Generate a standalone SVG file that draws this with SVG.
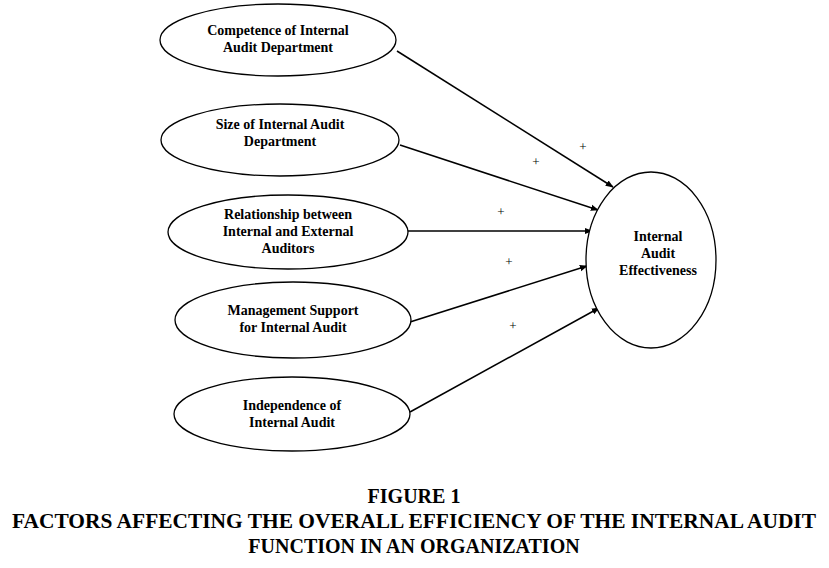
<svg xmlns="http://www.w3.org/2000/svg" width="829" height="568" viewBox="0 0 829 568">
<style>
ellipse{fill:#fff;stroke:#000;stroke-width:1.3}
.n{font-family:"Liberation Serif",serif;font-weight:bold;font-size:14px;text-anchor:middle}
.c{font-family:"Liberation Serif",serif;font-weight:bold;font-size:20px;text-anchor:middle}
.p{font-family:"Liberation Serif",serif;font-size:13px;text-anchor:middle}
line{stroke:#000;stroke-width:1.5;marker-end:url(#a)}
</style>
<defs><marker id="a" viewBox="0 0 10 10" refX="9" refY="5" markerWidth="8" markerHeight="8" orient="auto" markerUnits="userSpaceOnUse"><path d="M0,1L10,5L0,9z"/></marker></defs>
<rect width="829" height="568" fill="#fff"/>
<g id="connectors">
<line x1="397" y1="51" x2="613" y2="187"/>
<line x1="400" y1="145" x2="598" y2="210"/>
<line x1="408" y1="231" x2="592" y2="231"/>
<line x1="410" y1="322" x2="587" y2="266"/>
<line x1="410" y1="412" x2="599" y2="308"/>
<text class="p" x="583" y="151">+</text>
<text class="p" x="536" y="166">+</text>
<text class="p" x="501" y="216">+</text>
<text class="p" x="509" y="266">+</text>
<text class="p" x="513" y="330">+</text>
</g>
<g id="n1"><ellipse cx="278" cy="40" rx="118" ry="36"/><text class="n" x="278" y="35">Competence of Internal</text><text class="n" x="278" y="52">Audit Department</text></g>
<g id="n2"><ellipse cx="280" cy="140" rx="119" ry="36"/><text class="n" x="280" y="129">Size of Internal Audit</text><text class="n" x="280" y="146">Department</text></g>
<g id="n3"><ellipse cx="288" cy="232" rx="120" ry="37"/><text class="n" x="288" y="219">Relationship between</text><text class="n" x="288" y="236">Internal and External</text><text class="n" x="288" y="253">Auditors</text></g>
<g id="n4"><ellipse cx="293" cy="320" rx="118" ry="38"/><text class="n" x="293" y="315">Management Support</text><text class="n" x="293" y="332">for Internal Audit</text></g>
<g id="n5"><ellipse cx="292" cy="414" rx="118" ry="37"/><text class="n" x="292" y="410">Independence of</text><text class="n" x="292" y="427">Internal Audit</text></g>
<g id="t"><ellipse cx="651" cy="260" rx="65" ry="88"/><text class="n" x="658" y="241">Internal</text><text class="n" x="658" y="258">Audit</text><text class="n" x="658" y="275">Effectiveness</text></g>
<text class="c" x="414" y="503">FIGURE 1</text>
<text class="c" x="414" y="528" textLength="804" lengthAdjust="spacingAndGlyphs">FACTORS AFFECTING THE OVERALL EFFICIENCY OF THE INTERNAL AUDIT</text>
<text class="c" x="414" y="553">FUNCTION IN AN ORGANIZATION</text>
</svg>
